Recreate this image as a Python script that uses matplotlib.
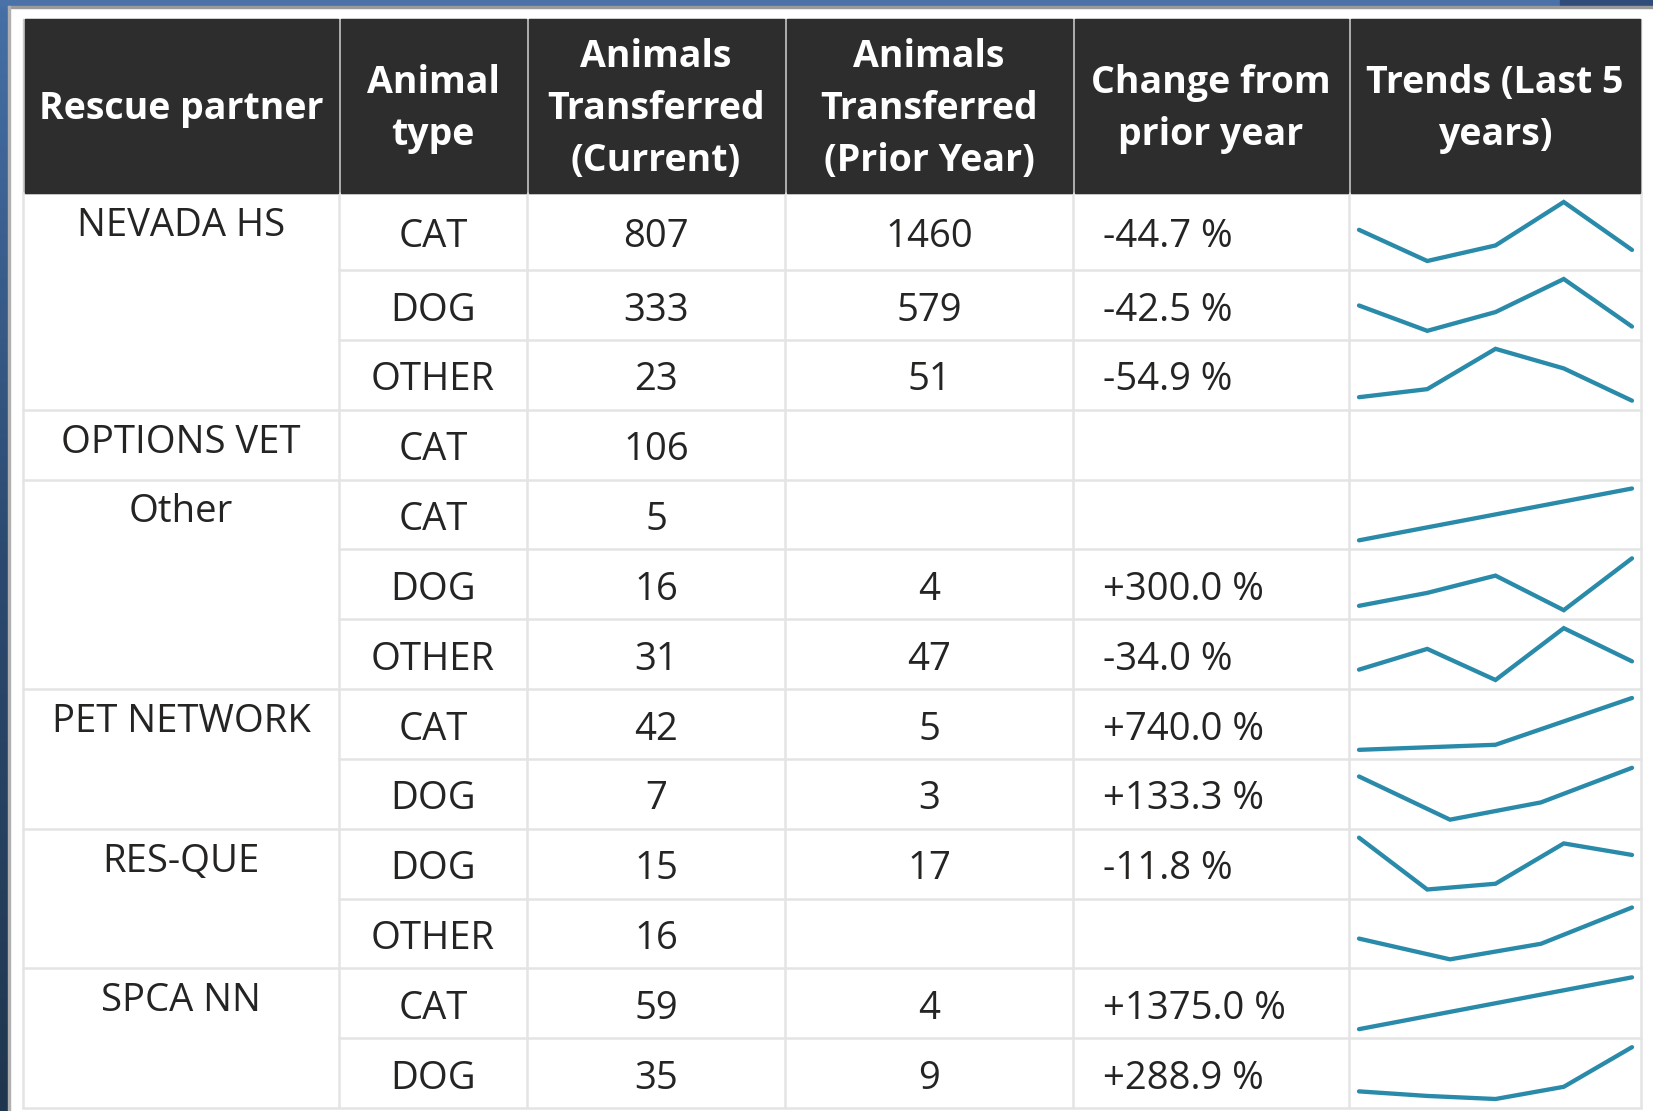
import matplotlib
matplotlib.use("Agg")
import matplotlib.pyplot as plt
import matplotlib.patches as mpatches
from matplotlib.colors import LinearSegmentedColormap
import numpy as np

headers = ["Rescue partner", "Animal\ntype", "Animals\nTransferred\n(Current)",
           "Animals\nTransferred\n(Prior Year)", "Change from\nprior year",
           "Trends (Last 5\nyears)"]
partners = ["NEVADA HS", "OPTIONS VET", "Other", "PET NETWORK", "RES-QUE", "SPCA NN"]
partner_rows = [3, 1, 3, 2, 2, 2]
animal_types = ["CAT", "DOG", "OTHER", "CAT", "CAT", "DOG", "OTHER",
                "CAT", "DOG", "DOG", "OTHER", "CAT", "DOG"]
current = [807, 333, 23, 106, 5, 16, 31, 42, 7, 15, 16, 59, 35]
prior = [1460, 579, 51, None, None, 4, 47, 5, 3, 17, None, 4, 9]
# sparkline values, estimated from the line shapes
trends = [
    [1081, 656, 868, 1460, 807],
    [442, 311, 408, 579, 333],
    [26, 33, 68, 51, 23],
    [],
    [1, 5],
    [5, 8, 12, 4, 16],
    [27, 37, 22, 47, 31],
    [1, 5, 42],
    [6, 1, 3, 7],
    [18, 9, 10, 17, 15],
    [10, 6, 9, 16],
    [4, 59],
    [6, 3, 1, 9, 35],
]

W, H = 1653, 1111
FONT = ['Open Sans', 'DejaVu Sans']
TXT = '#252423'
GRID = '#e4e4e4'
SPARK = '#2a8aa9'
BODY_FS = 27.5
HEAD_FS = 27

fig = plt.figure(figsize=(W / 100, H / 100), dpi=100)
ax = fig.add_axes([0, 0, 1, 1])

# background: blue window frame, white panel
ax.add_patch(mpatches.Rectangle((0, 0), W, H, color='white', zorder=0))
grad = np.linspace(0, 1, 256).reshape(-1, 1)
cmap = LinearSegmentedColormap.from_list('bg', ['#4670a6', '#2c4a70', '#20364f'])
ax.imshow(grad, extent=(0, 8, H, 0), cmap=cmap, aspect='auto', zorder=1)
ax.add_patch(mpatches.Rectangle((0, 0), W, 6, color='#4a72a8', zorder=1))
ax.add_patch(mpatches.Rectangle((1560, 0), W - 1560, 6, color='#2f4d78', zorder=1))
ax.add_patch(mpatches.Rectangle((8, 6), W, 1.5, color='#9a9a9a', zorder=1))
ax.add_patch(mpatches.Rectangle((8, 6), 1.5, H, color='#b0b0b0', zorder=1))

cx = [23, 339, 527, 785, 1073, 1349, 1641]
head_top, head_bot = 19, 193
first_h = 77
row_h = (1108 - (head_bot + first_h)) / 12
tops = [head_bot] + [head_bot + first_h + k * row_h for k in range(12)]
bots = tops[1:] + [1108]

# header cells
ax.add_patch(mpatches.Rectangle((cx[0], head_top), cx[-1] - cx[0], head_bot - head_top,
                                color='#c9c9c9', zorder=2))
head_mid = 106
cap_h = HEAD_FS * 100 / 72 * 0.714
pitch = 52
for i, label in enumerate(headers):
    ax.add_patch(mpatches.Rectangle((cx[i] + 1.5, head_top), cx[i + 1] - cx[i] - 3,
                                    head_bot - head_top, color='#2d2d2d', zorder=3))
    lines = label.split('\n')
    n = len(lines)
    for j, ln in enumerate(lines):
        y = head_mid + cap_h / 2 + (j - (n - 1) / 2) * pitch
        ax.text((cx[i] + cx[i + 1]) / 2, y, ln, ha='center', va='baseline',
                color='white', fontsize=HEAD_FS, fontweight='bold', family=FONT, zorder=4)

# grid lines
for x in cx:
    ax.plot([x, x], [head_bot, 1108], color=GRID, lw=1.8, zorder=2, solid_capstyle='butt')
group_starts = np.cumsum([0] + partner_rows[:-1])
for r in range(len(animal_types)):
    x0 = cx[0] if r in group_starts else cx[1]
    ax.plot([x0, cx[-1]], [tops[r], tops[r]], color=GRID, lw=1.8, zorder=2)
ax.plot([cx[0], cx[-1]], [1108, 1108], color=GRID, lw=1.8, zorder=2)

body_cap = BODY_FS * 100 / 72 * 0.714

# partner names (top aligned in merged cells)
for name, start in zip(partners, group_starts):
    ax.text((cx[0] + cx[1]) / 2, tops[start] + 43, name, ha='center', va='baseline',
            color=TXT, fontsize=BODY_FS, family=FONT, zorder=4)

# row cells
for r, atype in enumerate(animal_types):
    base = (tops[r] + bots[r]) / 2 + 2 + body_cap / 2
    ax.text((cx[1] + cx[2]) / 2, base, atype, ha='center', va='baseline',
            color=TXT, fontsize=BODY_FS, family=FONT, zorder=4)
    ax.text((cx[2] + cx[3]) / 2, base, str(current[r]), ha='center', va='baseline',
            color=TXT, fontsize=BODY_FS, family=FONT, zorder=4)
    if prior[r] is not None:
        ax.text((cx[3] + cx[4]) / 2, base, str(prior[r]), ha='center', va='baseline',
                color=TXT, fontsize=BODY_FS, family=FONT, zorder=4)
        pct = (current[r] - prior[r]) / prior[r] * 100
        ax.text(1103, base, f"{pct:+.1f} %", ha='left', va='baseline',
                color=TXT, fontsize=BODY_FS, family=FONT, zorder=4)

ax.set_xlim(0, W)
ax.set_ylim(H, 0)
ax.axis('off')

# sparklines
for r, vals in enumerate(trends):
    if len(vals) < 2:
        continue
    y_top = tops[r] + 9
    y_bot = bots[r] - 9
    sax = fig.add_axes([1359 / W, 1 - y_bot / H, (1632 - 1359) / W, (y_bot - y_top) / H])
    sax.plot(range(len(vals)), vals, color=SPARK, lw=3.1, clip_on=False,
             solid_capstyle='round', solid_joinstyle='miter')
    sax.set_xlim(0, len(vals) - 1)
    sax.set_ylim(min(vals), max(vals))
    sax.axis('off')

fig.savefig('out.png', dpi=100)
